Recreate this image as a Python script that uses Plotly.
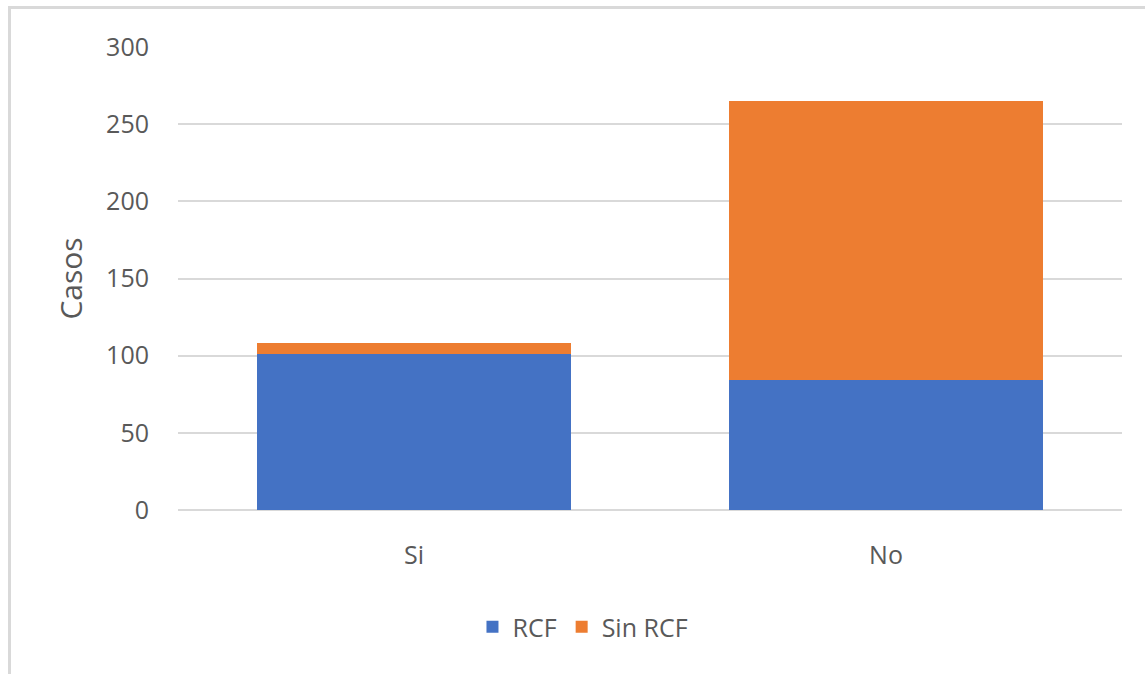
import plotly.graph_objects as go

categorias = ["Si", "No"]
rcf = [101, 84]
sin_rcf = [7, 181]

AZUL = "#4472C4"
NARANJA = "#ED7D31"
TEXTO = "#595959"
REJILLA = "#D9D9D9"
FUENTE = "Open Sans, Noto Sans, sans-serif"

fig = go.Figure()
fig.add_trace(go.Bar(name="RCF", x=categorias, y=rcf, marker=dict(color=AZUL, line=dict(width=0))))
fig.add_trace(go.Bar(name="Sin RCF", x=categorias, y=sin_rcf, marker=dict(color=NARANJA, line=dict(width=0))))

fig.update_layout(
    barmode="stack",
    bargap=0.333,
    width=1145,
    height=674,
    margin=dict(l=178, r=23, t=47, b=164),
    paper_bgcolor="white",
    plot_bgcolor="white",
    font=dict(family=FUENTE, color=TEXTO, size=25),
    showlegend=True,
    legend=dict(
        orientation="h",
        x=0.429, xanchor="center",
        y=-0.2527, yanchor="middle",
        font=dict(size=25, color=TEXTO),
        itemwidth=30,
        traceorder="normal",
    ),
    xaxis=dict(
        showgrid=False,
        showline=False,
        ticks="",
        tickfont=dict(size=25, color=TEXTO),
        ticklabelstandoff=28,
    ),
    yaxis=dict(
        range=[0, 300],
        dtick=50,
        showgrid=True,
        gridcolor=REJILLA,
        gridwidth=2,
        zeroline=True,
        zerolinecolor=REJILLA,
        zerolinewidth=2,
        showline=False,
        ticks="",
        tickfont=dict(size=25, color=TEXTO),
        ticklabelstandoff=28,
        title=dict(text="Casos", font=dict(size=30, color=TEXTO), standoff=14),
    ),
)

# marco del área del gráfico
fig.add_shape(
    type="rect", xref="paper", yref="paper",
    x0=-168.5 / 944, x1=1.05, y0=-0.5, y1=(674 - 7.5 - 164) / 463,
    line=dict(color="#D9D9D9", width=3), fillcolor="rgba(0,0,0,0)", layer="below",
)

fig.write_html("out.html")
